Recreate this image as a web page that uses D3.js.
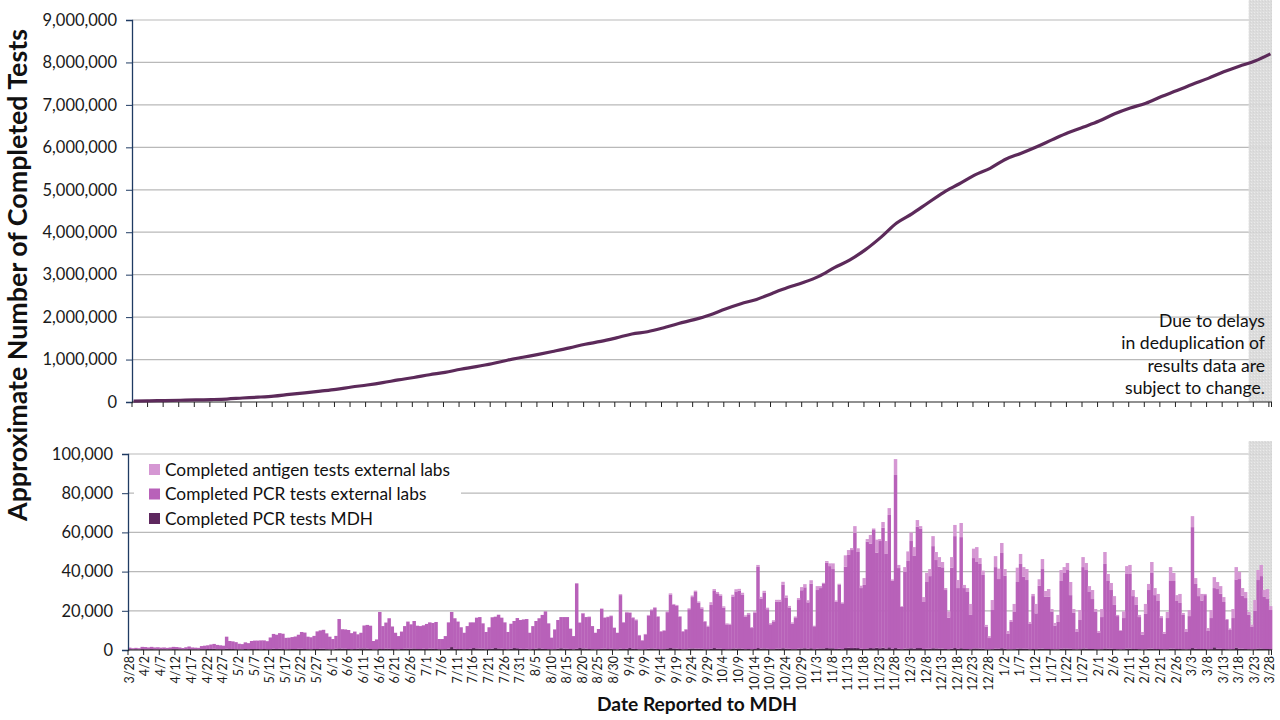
<!DOCTYPE html>
<html><head><meta charset="utf-8">
<script src="https://cdn.jsdelivr.net/npm/d3@7"></script>
<style>
body{margin:0;background:#fff;}
svg{display:block;font-family:Lato,"Open Sans",sans-serif;}
</style>
</head><body>
<svg id="chart" width="1280" height="720"></svg>
<script>
// ---------------- DATA ----------------
const firstDay = new Date(2020, 2, 28);
const lastDay = new Date(2021, 2, 28);
const categories = d3.timeDay.range(firstDay, d3.timeDay.offset(lastDay, 1)); // 366 report dates

const tickLabels = ["3/28","4/2","4/7","4/12","4/17","4/22","4/27","5/2","5/7","5/12","5/17","5/22","5/27","6/1","6/6","6/11","6/16","6/21","6/26","7/1","7/6","7/11","7/16","7/21","7/26","7/31","8/5","8/10","8/15","8/20","8/25","8/30","9/4","9/9","9/14","9/19","9/24","9/29","10/4","10/9","10/14","10/19","10/24","10/29","11/3","11/8","11/13","11/18","11/23","11/28","12/3","12/8","12/13","12/18","12/23","12/28","1/2","1/7","1/12","1/17","1/22","1/27","2/1","2/6","2/11","2/16","2/21","2/26","3/3","3/8","3/13","3/18","3/23","3/28"];

const seriesNames = ["Completed PCR tests MDH","Completed PCR tests external labs","Completed antigen tests external labs"];

const pcrMDH = [
300,200,300,200,400,300,300,400,300,300,
300,300,200,300,400,400,300,200,300,400,
300,300,200,400,400,500,500,600,400,400,
400,600,500,500,400,300,300,500,400,500,
500,500,400,500,400,400,600,500,600,500,
300,400,500,500,600,600,500,400,300,500,
500,600,600,400,300,300,600,800,700,600,
500,400,500,700,800,800,700,500,300,300,
800,500,700,600,500,400,300,500,600,700,
600,800,500,500,600,500,700,600,500,300,
300,400,700,1500,600,500,500,400,500,600,
1000,800,700,600,400,500,700,1000,800,600,
500,400,600,1000,900,600,500,600,300,500,
700,900,600,500,400,300,400,700,900,700,
600,500,300,600,1000,800,700,500,400,300,
400,600,700,500,600,400,300,700,500,600,
1000,600,500,300,300,400,600,800,600,500,
300,400,800,1000,800,700,500,300,400,700,
800,700,700,600,400,400,600,1000,700,700,
500,400,400,800,700,800,600,400,500,300,
500,1000,700,800,600,400,400,700,600,900,
700,600,400,400,700,800,900,600,900,400,
700,800,800,1000,900,900,500,700,400,1000,
1200,1000,1100,1000,600,500,800,1000,900,1200,
900,1200,800,1400,600,1000,700,400,700,800,
900,700,1000,1000,500,600,600,900,800,700,
700,500,300,700,1000,600,900,500,500,300,
800,800,700,600,300,200,400,700,600,900,
600,300,300,400,700,800,600,600,300,500,
400,600,700,500,500,400,300,300,600,700,
700,600,400,300,400,800,700,500,500,400,
300,400,800,600,600,500,400,300,400,700,
700,500,500,400,300,400,600,700,500,500,
400,300,400,700,600,500,500,400,300,400,
1000,600,500,500,500,300,400,1400,700,600,
500,400,300,400,1300,700,600,500,400,300,
400,700,700,500,500,400];

const pcrExternal = [
900,700,800,700,1200,1200,1000,1200,1000,1100,
900,1000,900,1000,1200,1100,1000,800,1100,1400,
1000,900,900,1600,1800,1900,2300,2500,2200,2000,
1800,6200,4100,3900,3600,2900,2700,3400,3100,4100,
4300,4300,4500,4400,4100,6000,7600,7300,8000,7800,
5900,5900,6100,6400,7200,8600,8400,6400,6200,6700,
9000,9400,9700,8100,6500,5300,6600,15000,9900,9900,
9700,8200,8900,7300,8000,11700,12100,11900,4300,5100,
18600,11700,13300,15600,11500,8400,6800,8900,11600,13800,
12500,14000,11900,11700,12000,12800,13400,13200,13800,5300,
5300,6700,13400,17900,15600,14000,11100,8400,11700,13500,
13100,15700,16100,13000,8800,11100,16000,16000,17200,15900,
13600,8800,12800,13800,15400,14700,15100,15200,8500,11700,
14100,15300,17300,19200,13200,6000,10100,14600,15900,16100,
16200,10400,6800,33400,13000,17900,16100,16300,11800,8500,
10300,20300,15800,16300,16700,11000,8500,27300,13600,18600,
18000,15700,14700,7200,4600,7600,17000,19500,20800,16500,
9200,9500,18500,27300,22200,21800,16400,9200,10100,20100,
26200,28900,23400,20600,13900,11600,22400,29100,28200,27000,
21100,12700,12600,26500,29200,29500,27700,16500,17700,10900,
18500,41400,25500,28500,20200,12700,14200,24000,24100,32500,
25900,21100,13000,15900,24800,29700,31100,23700,33000,11700,
29900,30800,33200,43500,41900,40400,24100,32700,23400,41500,
47300,50000,58700,49000,31000,32700,54500,53200,60300,48400,
54700,61200,48200,67500,34800,88300,41100,21600,39100,44600,
54700,47300,61900,61000,24000,34100,37100,52100,45100,41800,
41500,30100,16200,41300,57100,31000,56700,31100,29100,17600,
46100,44100,43200,37700,11600,5900,20000,41600,35600,48600,
37300,7900,14000,19000,34000,43100,36800,35100,13000,27000,
18300,32200,40600,26700,26700,19200,12100,14000,34600,38600,
40100,27400,18600,8900,14900,41500,40100,29100,25500,19000,
8400,16400,43100,34600,30000,22500,16900,9600,15900,38100,
38100,27000,22500,16400,7500,18000,30000,38600,27500,24500,
15900,8000,15900,34500,34600,24500,23500,17500,8900,16900,
61700,33100,27000,24700,27500,9400,15900,30200,30400,28100,
24000,14900,9900,15900,34700,35500,27100,26000,17600,11600,
19500,35000,37000,26700,25500,20000];

const antigenExternal = [
0,0,0,0,0,0,0,0,0,0,
0,0,0,0,0,0,0,0,0,0,
0,0,0,0,0,0,0,0,0,0,
0,0,0,0,0,0,0,0,0,0,
0,0,0,0,0,0,0,0,0,0,
0,0,0,0,0,0,0,0,0,0,
0,0,0,0,0,0,0,0,0,0,
0,0,0,0,0,0,0,0,0,0,
0,0,0,0,0,0,0,0,0,0,
0,0,0,0,0,0,0,0,0,0,
0,0,0,0,0,0,0,0,0,0,
0,0,0,0,0,0,0,0,0,0,
0,0,0,0,0,0,0,0,0,0,
0,0,0,0,0,0,0,0,0,0,
0,0,0,0,0,200,0,300,0,0,
0,300,200,200,300,0,0,500,200,300,
200,400,400,200,200,200,300,400,400,300,
200,300,400,600,500,500,400,200,200,500,
800,700,700,600,500,400,1400,1000,700,700,
700,500,400,900,1100,900,900,800,700,500,
700,1000,900,900,800,600,600,900,900,1400,
1200,800,700,800,1000,1600,1600,1100,1700,300,
2000,1000,300,900,1400,2900,700,400,500,5800,
2500,1000,3400,1900,1200,3500,1300,4500,800,6700,
1000,2900,6600,3500,600,8100,1600,400,2500,4900,
4400,4500,3400,1200,2500,4700,3600,5100,4100,4900,
2700,1000,3200,5400,5700,4100,7200,1600,2000,5600,
4800,7600,3000,2200,900,1000,5100,5600,5300,5100,
3400,1500,1000,4100,7300,5100,4900,5600,1000,1100,
4800,3300,5100,2900,3900,1300,1400,3600,5600,3000,
3600,6700,1900,1500,5100,5100,3600,3000,4600,1500,
1000,4100,6100,3600,3600,4500,600,300,3400,4000,
4600,3100,4000,1100,1400,5100,3100,5600,3600,3600,
1000,900,3100,7100,4100,3000,4600,1000,1500,3100,
5600,3000,4100,3400,600,1500,4100,5600,3600,3900,
2500,500,800,4600,6300,3600,3900,3100,1400,1000,
5600,5100,5700,3400,5100,2000];

// cumulative completed tests, read on each labelled date (tickLabels)
const cumulativeTests = [
21000,27000,34000,41000,48000,57000,70000,94000,114000,139000,
179000,216000,256000,298000,353000,401000,456000,520000,577000,643000,
698000,771000,832000,901000,984000,1054000,1122000,1197000,1275000,1361000,
1427000,1511000,1602000,1656000,1745000,1851000,1940000,2049000,2191000,2315000,
2417000,2559000,2695000,2814000,2960000,3164000,3349000,3589000,3884000,4216000,
4437000,4689000,4935000,5136000,5344000,5506000,5720000,5862000,6014000,6181000,
6342000,6478000,6619000,6793000,6929000,7039000,7198000,7337000,7486000,7625000,
7779000,7911000,8032000,8203000];

const topTicks = [0,1000000,2000000,3000000,4000000,5000000,6000000,7000000,8000000,9000000];
const bottomTicks = [0,20000,40000,60000,80000,100000];
const provisionalFrom = new Date(2021, 2, 21); // shaded, data subject to change
const noteLines = ["Due to delays","in deduplication of","results data are","subject to change."];
const yTitle = "Approximate Number of Completed Tests";
const xTitle = "Date Reported to MDH";

// ---------------- STYLE ----------------
const colors = {mdh:"#5e285f", pcr:"#b861b9", antigen:"#d597d3", line:"#5c2a5a",
  grid:"#b9b9b9", yAxis:"#1f3b63"};

// ---------------- CHART ----------------
const svg = d3.select("#chart");
const fmt = d3.format(",");
const labelledDays = tickLabels.map((t, k) => categories[k * 5]);

const defs = svg.append("defs");
const pat = defs.append("pattern").attr("id","hatch").attr("patternUnits","userSpaceOnUse")
  .attr("width",3).attr("height",3);
pat.append("rect").attr("width",3).attr("height",3).attr("fill","#d8d8d8");
pat.append("rect").attr("width",1).attr("height",1).attr("fill","#e8e8e8");
pat.append("rect").attr("x",2).attr("y",1).attr("width",1).attr("height",1).attr("fill","#cfcfcf");

// ===== top panel =====
const xTop = d3.scaleBand().domain(categories).range([132, 1272]).padding(0);
const yTop = d3.scaleLinear().domain([0, 9000000]).range([402, 20]);

svg.append("g").selectAll("line").data(topTicks.slice(1)).join("line")
  .attr("x1",132).attr("x2",1272).attr("y1",d=>yTop(d)).attr("y2",d=>yTop(d))
  .attr("stroke",colors.grid).attr("stroke-width",1.2);

const shadeX0Top = xTop(provisionalFrom) + xTop.bandwidth()/2;
svg.append("rect").attr("x",shadeX0Top).attr("y",yTop(9000000)-20)
  .attr("width",1272-shadeX0Top).attr("height",yTop(0)-yTop(9000000)+20)
  .attr("fill","url(#hatch)").attr("opacity",0.9);

const yAxisTop = d3.axisLeft(yTop).tickValues(topTicks).tickFormat(fmt).tickSize(6).tickPadding(9);
const gyt = svg.append("g").attr("transform","translate(132,0)").call(yAxisTop);
gyt.select(".domain").attr("stroke",colors.yAxis).attr("stroke-width",1.3);
gyt.selectAll(".tick line").attr("stroke",colors.yAxis);
gyt.selectAll("text").attr("font-size",16.5).attr("fill","#1a1a1a").attr("font-family","Lato");

// top x axis (ticks only)
const gxt = svg.append("g");
gxt.append("line").attr("x1",132).attr("x2",1272).attr("y1",402).attr("y2",402).attr("stroke","#222").attr("stroke-width",1.2);
gxt.selectAll("line.t").data(labelledDays).join("line").attr("class","t")
  .attr("x1",d=>xTop(d)).attr("x2",d=>xTop(d)).attr("y1",402).attr("y2",407).attr("stroke","#222");
gxt.append("line").attr("x1",1271.5).attr("x2",1271.5).attr("y1",402).attr("y2",407).attr("stroke","#222");

const line = d3.line().x((d,k)=>xTop(labelledDays[k]) + xTop.bandwidth()/2).y(d=>yTop(d)).curve(d3.curveMonotoneX);
svg.append("path").datum(cumulativeTests).attr("d",line).attr("fill","none")
  .attr("stroke",colors.line).attr("stroke-width",3.2).attr("stroke-linejoin","round");

const note = svg.append("text").attr("text-anchor","end").attr("font-size",17.6).attr("fill","#111");
noteLines.forEach((t,k)=>note.append("tspan").attr("x",1265).attr("y",327 + k*22.4).text(t));

// ===== bottom panel =====
const xBot = d3.scaleBand().domain(categories).range([128, 1272]).padding(0);
const yBot = d3.scaleLinear().domain([0, 100000]).range([650, 454]);

svg.append("g").selectAll("line").data(bottomTicks.slice(1)).join("line")
  .attr("x1",128).attr("x2",1272).attr("y1",d=>yBot(d)).attr("y2",d=>yBot(d))
  .attr("stroke",colors.grid).attr("stroke-width",1.2);

const shadeX0Bot = xBot(provisionalFrom) + xBot.bandwidth()/2;
svg.append("rect").attr("x",shadeX0Bot).attr("y",yBot(100000)-13)
  .attr("width",1272-shadeX0Bot).attr("height",yBot(0)-yBot(100000)+13)
  .attr("fill","url(#hatch)").attr("opacity",0.9);

const rows = categories.map((d,i)=>({date:d, mdh:pcrMDH[i], pcr:pcrExternal[i], antigen:antigenExternal[i]}));
const stack = d3.stack().keys(["mdh","pcr","antigen"])(rows);
svg.append("g").selectAll("g").data(stack).join("g").attr("fill",s=>colors[s.key])
  .selectAll("rect").data(s=>s).join("rect")
  .attr("x",d=>xBot(d.data.date)).attr("width",xBot.bandwidth()+0.35)
  .attr("y",d=>yBot(d[1])).attr("height",d=>Math.max(0,yBot(d[0])-yBot(d[1])));

const yAxisBot = d3.axisLeft(yBot).tickValues(bottomTicks).tickFormat(fmt).tickSize(6).tickPadding(9);
const gyb = svg.append("g").attr("transform","translate(128,0)").call(yAxisBot);
gyb.select(".domain").attr("stroke",colors.yAxis).attr("stroke-width",1.3);
gyb.selectAll(".tick line").attr("stroke",colors.yAxis);
gyb.selectAll("text").attr("font-size",16.5).attr("fill","#1a1a1a").attr("font-family","Lato");

const gxb = svg.append("g");
gxb.append("line").attr("x1",128).attr("x2",1272).attr("y1",650).attr("y2",650).attr("stroke","#222").attr("stroke-width",1.2);
gxb.selectAll("line.t").data(labelledDays).join("line").attr("class","t")
  .attr("x1",d=>xBot(d)).attr("x2",d=>xBot(d)).attr("y1",650).attr("y2",655).attr("stroke","#222");
gxb.append("line").attr("x1",1271.5).attr("x2",1271.5).attr("y1",650).attr("y2",655).attr("stroke","#222");
gxb.selectAll("text").data(tickLabels).join("text")
  .attr("transform",(t,k)=>`translate(${xBot(labelledDays[k]) + xBot.bandwidth()/2 + 4},656) rotate(-90)`)
  .attr("text-anchor","end").attr("font-size",12.5).attr("fill","#1a1a1a").text(t=>t);

// legend
const lg = svg.append("g");
lg.append("rect").attr("x",134).attr("y",460).attr("width",327).attr("height",67).attr("fill","#fff");
const legendItems = [{k:"antigen",t:seriesNames[2]},{k:"pcr",t:seriesNames[1]},{k:"mdh",t:seriesNames[0]}];
legendItems.forEach((it,k)=>{
  lg.append("rect").attr("x",149).attr("y",464 + k*24.5).attr("width",11).attr("height",11).attr("fill",colors[it.k]);
  lg.append("text").attr("x",165).attr("y",475.5 + k*24.5).attr("font-size",17.3).attr("fill","#111").text(it.t);
});

// titles
svg.append("text").attr("transform","translate(27,275) rotate(-90)").attr("text-anchor","middle")
  .attr("font-size",26.8).attr("font-weight","bold").attr("fill","#111").text(yTitle);
svg.append("text").attr("x",697).attr("y",711).attr("text-anchor","middle")
  .attr("font-size",19.2).attr("font-weight","bold").attr("fill","#111").text(xTitle);
</script>
</body></html>
